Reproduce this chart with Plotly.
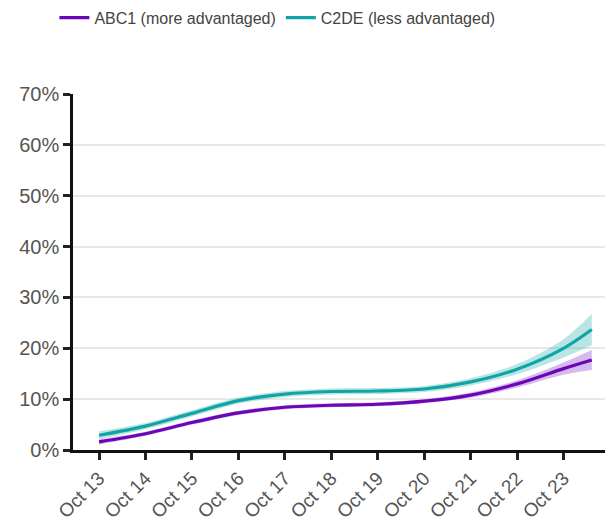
import plotly.graph_objects as go

# Survey waves (yearly checkpoints, last one mid-2024)
dates = ["2013-10-01", "2014-10-01", "2015-10-01", "2016-10-01", "2017-10-01",
         "2018-10-01", "2019-10-01", "2020-10-01", "2021-10-01", "2022-10-01",
         "2023-10-01", "2024-05-10"]

# Smoothed share (%) by social grade
abc1 = [1.6, 3.2, 5.4, 7.3, 8.4, 8.8, 9.0, 9.6, 10.8, 13.0, 16.0, 17.7]
c2de = [2.9, 4.7, 7.2, 9.7, 11.0, 11.5, 11.6, 12.0, 13.4, 15.9, 20.0, 23.7]

# Confidence interval half-widths (%)
abc1_ci = [0.5, 0.4, 0.4, 0.4, 0.4, 0.4, 0.4, 0.4, 0.5, 0.7, 1.2, 1.95]
c2de_ci = [0.8, 0.6, 0.6, 0.6, 0.6, 0.6, 0.6, 0.6, 0.7, 1.0, 1.8, 3.1]

tick_vals = dates[:11]
tick_text = ["Oct 13", "Oct 14", "Oct 15", "Oct 16", "Oct 17", "Oct 18",
             "Oct 19", "Oct 20", "Oct 21", "Oct 22", "Oct 23"]
y_ticks = [0, 10, 20, 30, 40, 50, 60, 70]

PURPLE = "#6a06b8"
TEAL = "#10a4a4"

series = [
    ("ABC1 (more advantaged)", abc1, abc1_ci, PURPLE, "rgba(130,40,200,0.32)"),
    ("C2DE (less advantaged)", c2de, c2de_ci, TEAL, "rgba(40,175,175,0.32)"),
]

fig = go.Figure()
for name, vals, ci, col, band in series:
    lo = [v - c for v, c in zip(vals, ci)]
    hi = [v + c for v, c in zip(vals, ci)]
    fig.add_trace(go.Scatter(x=dates, y=lo, mode="lines",
                             line=dict(width=0, shape="spline", smoothing=0.9),
                             showlegend=False, hoverinfo="skip"))
    fig.add_trace(go.Scatter(x=dates, y=hi, mode="lines",
                             line=dict(width=0, shape="spline", smoothing=0.9),
                             fill="tonexty", fillcolor=band, showlegend=False, hoverinfo="skip"))
for name, vals, ci, col, band in series:
    fig.add_trace(go.Scatter(x=dates, y=vals, mode="lines", name=name,
                             line=dict(color=col, width=3.2, shape="spline", smoothing=0.9)))

fig.update_layout(
    width=606, height=523,
    margin=dict(l=73, r=1, t=93, b=69),
    paper_bgcolor="white", plot_bgcolor="white",
    font=dict(family="Liberation Sans, Arial, sans-serif", color="#555555"),
    legend=dict(orientation="h", traceorder="normal",
                x=-0.035, xanchor="left", y=1.262, yanchor="top",
                font=dict(size=16, color="#444444"), itemwidth=30, tracegroupgap=0),
    xaxis=dict(
        type="date", range=["2013-03-10", "2024-08-22"],
        tickvals=tick_vals, ticktext=tick_text, tickangle=-45,
        tickfont=dict(size=19, color="#555555"),
        showgrid=False, showline=True, linecolor="#111111", linewidth=2.5,
        ticks="outside", ticklen=7, tickwidth=2.5, tickcolor="#222222",
        zeroline=False,
    ),
    yaxis=dict(
        range=[0, 70], tickvals=y_ticks, ticktext=[f"{v}%" for v in y_ticks],
        tickfont=dict(size=20, color="#555555"),
        showgrid=True, gridcolor="#e8e8e8", gridwidth=1.5,
        showline=True, linecolor="#111111", linewidth=2.5,
        ticks="outside", ticklen=7, tickwidth=2.5, tickcolor="#222222",
        zeroline=False,
    ),
)

fig.write_html("out.html")
